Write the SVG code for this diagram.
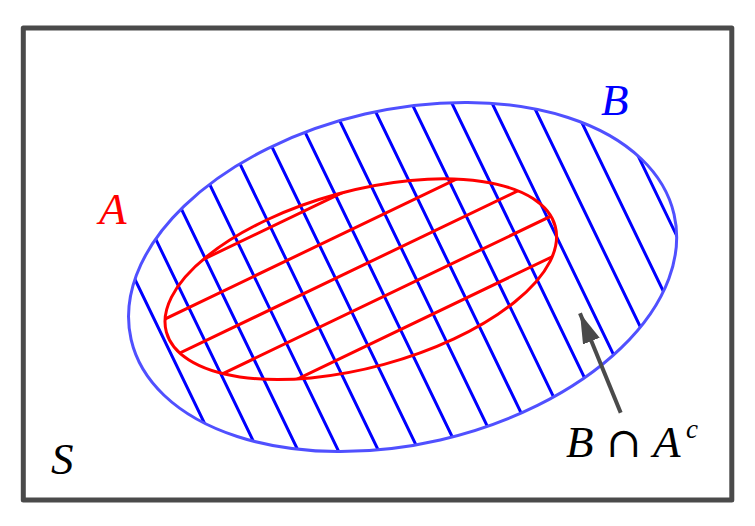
<svg xmlns="http://www.w3.org/2000/svg" width="755" height="526" viewBox="0 0 755 526">
  <style>
    .frame { fill: none; stroke: #4a4a4a; stroke-width: 5; stroke-linejoin: round; }
    .hatchB { fill: none; stroke: #0000ff; stroke-width: 3; }
    .hatchA { fill: none; stroke: #ff0000; stroke-width: 3; }
    .outlineB { fill: none; stroke: #5050ff; stroke-width: 3; }
    .outlineA { fill: none; stroke: #ff0000; stroke-width: 3; }
    .lbl { font-family: "Liberation Serif", "Times New Roman", serif; font-style: italic; font-size: 45px; }
    .conn { fill: none; stroke: #4a4a4a; stroke-width: 4; }
  </style>
  <defs>
    <clipPath id="clipB">
      <ellipse cx="402.6" cy="277" rx="278.6" ry="167.2" transform="rotate(-13 402.6 277)"/>
    </clipPath>
    <clipPath id="clipA">
      <ellipse cx="360.8" cy="279.2" rx="201.5" ry="88.3" transform="rotate(-15.24 360.8 279.2)"/>
    </clipPath>
    <marker id="arrowhead" markerUnits="userSpaceOnUse" markerWidth="34" markerHeight="22" refX="30" refY="9" orient="auto">
      <path d="M0 0 L30 9 L0 18 Z" fill="#4a4a4a"/>
    </marker>
  </defs>

  <g id="frame-S">
    <rect class="frame" x="23.3" y="28" width="708.5" height="472"/>
    <text class="lbl" x="51" y="474" fill="#000000">S</text>
  </g>

  <g id="set-B">
    <path class="hatchB" clip-path="url(#clipB)" d="M29 60l202.9 420M69.2 60l202.9 420M109.4 60l202.9 420M149.6 60l202.9 420M189.8 60l202.9 420M230 60l202.9 420M270.2 60l202.9 420M310.4 60l202.9 420M350.6 60l202.9 420M390.8 60l202.9 420M431 60l202.9 420M471.2 60l202.9 420M511.4 60l202.9 420M551.6 60l202.9 420M591.8 60l202.9 420"/>
    <ellipse class="outlineB" cx="402.6" cy="277" rx="278.6" ry="167.2" transform="rotate(-13 402.6 277)"/>
    <text class="lbl" x="601" y="115" fill="#0000ff">B</text>
  </g>

  <g id="set-A">
    <path class="hatchA" clip-path="url(#clipA)" d="M140 289.8l440 -211.2M140 331l440 -211.2M140 372.2l440 -211.2M140 413.4l440 -211.2M140 454.6l440 -211.2"/>
    <ellipse class="outlineA" cx="360.8" cy="279.2" rx="201.5" ry="88.3" transform="rotate(-15.24 360.8 279.2)"/>
    <text class="lbl" x="99" y="223.5" fill="#ff0000">A</text>
  </g>

  <g id="label-BAc">
    <text class="lbl" y="456.5" fill="#000000"><tspan x="566">B</tspan><tspan x="606" font-style="normal" font-family="DejaVu Serif, serif" font-size="42">∩</tspan><tspan x="653">A</tspan><tspan x="686" dy="-19" font-size="27">c</tspan></text>
  </g>

  <g id="connectors">
    <line class="conn" x1="620.7" y1="412.7" x2="580" y2="313.3" marker-end="url(#arrowhead)"/>
  </g>
</svg>
